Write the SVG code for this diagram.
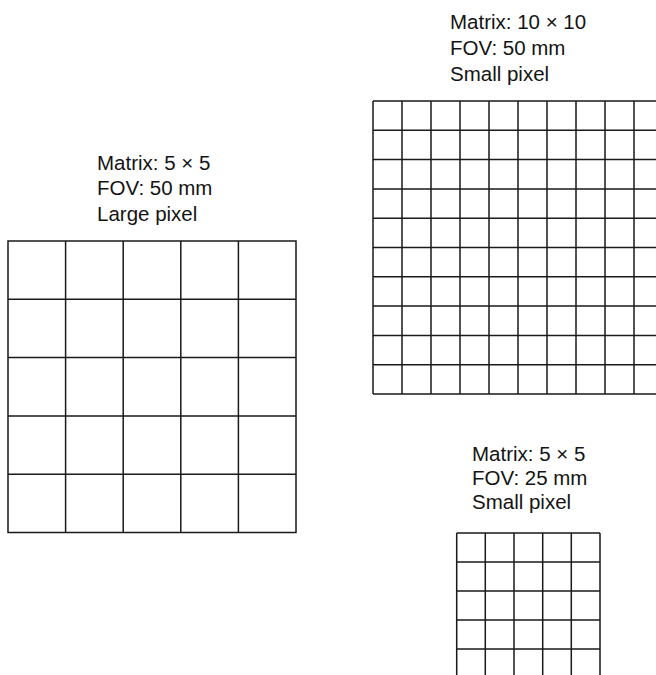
<svg xmlns="http://www.w3.org/2000/svg" width="656" height="675" viewBox="0 0 656 675">
<style>
text{font-family:"Liberation Sans",Arial,sans-serif;font-size:20.5px;fill:#141414}
.g{fill:none;stroke:#1a1a1a;stroke-width:1.5}
</style>
<rect width="656" height="675" fill="#fff"/>
<g id="grid-large">
<text x="97" y="169.5">Matrix: 5 × 5</text>
<text x="97" y="195">FOV: 50 mm</text>
<text x="97" y="220.5">Large pixel</text>
<path class="g" d="M8 241H296V532.5H8Z M65.6 241V532.5 M123.2 241V532.5 M180.8 241V532.5 M238.4 241V532.5 M8 299.3H296 M8 357.6H296 M8 415.9H296 M8 474.2H296"/>
</g>
<g id="grid-small-50">
<text x="450" y="29">Matrix: 10 × 10</text>
<text x="450" y="55">FOV: 50 mm</text>
<text x="450" y="80.5">Small pixel</text>
<path class="g" d="M373 101V394 M402 101V394 M431 101V394 M460 101V394 M489 101V394 M518 101V394 M547 101V394 M576 101V394 M605 101V394 M634 101V394 M373 101H660 M373 130.3H660 M373 159.6H660 M373 188.9H660 M373 218.2H660 M373 247.5H660 M373 276.8H660 M373 306.1H660 M373 335.4H660 M373 364.7H660 M373 394H660"/>
</g>
<g id="grid-small-25">
<text x="472" y="461">Matrix: 5 × 5</text>
<text x="472" y="485">FOV: 25 mm</text>
<text x="472" y="509">Small pixel</text>
<path class="g" d="M456.7 533V680 M485.3 533V680 M514 533V680 M542.7 533V680 M571.3 533V680 M600 533V680 M456.7 533H600 M456.7 562H600 M456.7 591H600 M456.7 620H600 M456.7 649H600"/>
</g>
</svg>
